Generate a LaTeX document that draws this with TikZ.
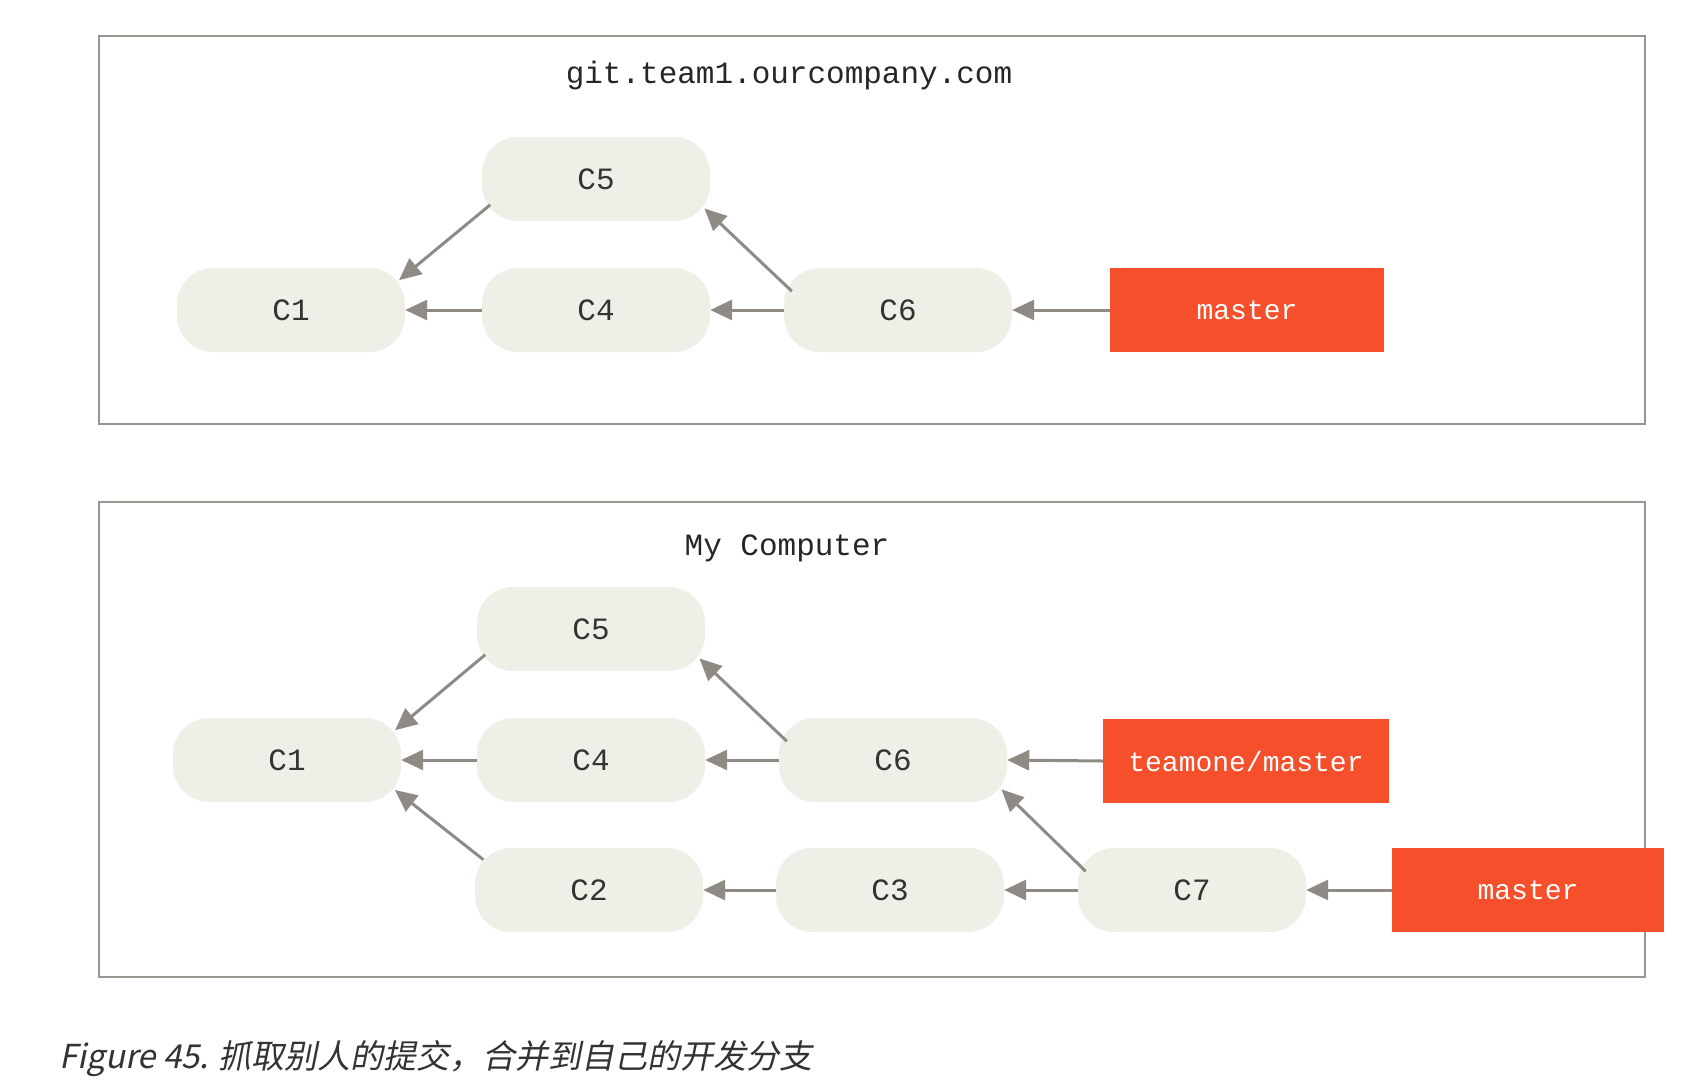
\documentclass[tikz,border=0pt]{standalone}
\usepackage{fontspec}
\usetikzlibrary{arrows.meta}
\newfontfamily\codefont{Liberation Mono}
\newfontfamily\capfont[FakeSlant=0.2]{Noto Sans CJK SC}
\definecolor{commitfill}{HTML}{EFEEE7}
\definecolor{branchred}{HTML}{F54F2B}
\definecolor{arrowgray}{HTML}{8F8A84}
\definecolor{framegray}{HTML}{9A958F}
\definecolor{inkgray}{HTML}{333333}
\begin{document}
\begin{tikzpicture}[
    x=1pt, y=-1pt,
    frame/.style={draw=framegray, line width=2.5pt, inner sep=0pt},
    title/.style={font=\codefont\fontsize{31}{37}\selectfont, text=black!85},
    commit/.style={fill=commitfill, rounded corners=36pt, minimum width=228pt,
                   minimum height=84pt, font=\codefont\fontsize{31}{37}\selectfont,
                   text=inkgray},
    branch/.style={fill=branchred, minimum width=274pt, minimum height=84pt,
                   font=\codefont\fontsize{28}{34}\selectfont, text=white},
    arr/.style={-{Triangle[length=22pt, width=20pt]}, line width=3pt, color=arrowgray},
    diag/.style={arr, shorten <=-11pt, shorten >=-8pt}
  ]
  \useasboundingbox (0,0) rectangle (1688,1084);
  % Server
  \node[frame, minimum width=1546pt, minimum height=388pt] (server) at (872,230) {};
  \node[title] (servername) at (789,75) {git.team1.ourcompany.com};
  \node[commit] (sc1) at (291,310) {C1};
  \node[commit] (sc4) at (596,310) {C4};
  \node[commit] (sc5) at (596,179) {C5};
  \node[commit] (sc6) at (898,310) {C6};
  \node[branch] (smaster) at (1247,310) {master};
  \draw[arr] (sc4.west) -- (sc1.east);
  \draw[diag] (sc5.196) -- (sc1.17);
  \draw[arr] (sc6.west) -- (sc4.east);
  \draw[diag] (sc6.167) -- (sc5.343);
  \draw[arr] (smaster.west) -- (sc6.east);
  % Local
  \node[frame, minimum width=1546pt, minimum height=475pt] (local) at (872,739.5) {};
  \node[title] (localname) at (787,548) {My Computer};
  \node[commit] (lc1) at (287,760) {C1};
  \node[commit] (lc4) at (591,760) {C4};
  \node[commit] (lc5) at (591,629) {C5};
  \node[commit] (lc6) at (893,760) {C6};
  \node[commit] (lc2) at (589,890) {C2};
  \node[commit] (lc3) at (890,890) {C3};
  \node[commit] (lc7) at (1192,890) {C7};
  \node[branch, minimum width=286pt] (lteam) at (1246,761) {teamone/master};
  \node[branch, minimum width=272pt] (lmaster) at (1528,890) {master};
  \draw[arr] (lc4.west) -- (lc1.east);
  \draw[diag] (lc5.196) -- (lc1.17);
  \draw[diag] (lc2.162) -- (lc1.343);
  \draw[arr] (lc6.west) -- (lc4.east);
  \draw[diag] (lc6.167) -- (lc5.343);
  \draw[arr] (lc3.west) -- (lc2.east);
  \draw[arr] (lc7.west) -- (lc3.east);
  \draw[diag] (lc7.167) -- (lc6.343);
  \draw[arr] (lteam.west) -- (lc6.east);
  \draw[arr] (lmaster.west) -- (lc7.east);
  % Caption
  \node[anchor=west, inner sep=0pt, text=inkgray,
        font=\capfont\fontsize{33}{40}\selectfont] (caption) at (59,1059)
    {Figure 45. 抓取别人的提交，合并到自己的开发分支};
\end{tikzpicture}
\end{document}
